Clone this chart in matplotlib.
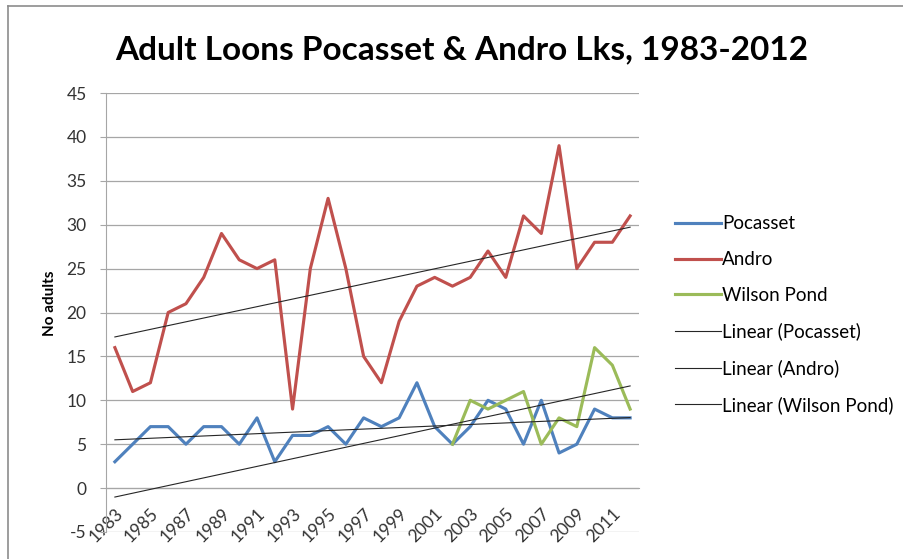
import numpy as np
import matplotlib
matplotlib.use("Agg")
import matplotlib.pyplot as plt
from matplotlib.lines import Line2D

# -----------------------------
# Data
# -----------------------------
years = list(range(1983, 2013))
pocasset = [3, 5, 7, 7, 5, 7, 7, 5, 8, 3, 6, 6, 7, 5, 8, 7, 8, 12, 7, 5,
            7, 10, 9, 5, 10, 4, 5, 9, 8, 8]
andro = [16, 11, 12, 20, 21, 24, 29, 26, 25, 26, 9, 25, 33, 25, 15, 12, 19, 23, 24, 23,
         24, 27, 24, 31, 29, 39, 25, 28, 28, 31]
# Wilson Pond only counted from 2002
wilson_years = list(range(2002, 2013))
wilson = [5, 10, 9, 10, 11, 5, 8, 7, 16, 14, 9]

yticks = list(range(-5, 50, 5))
xticks = list(range(1983, 2012, 2))

plt.rcParams['font.family'] = ['Lato', 'DejaVu Sans']
plt.rcParams['axes.unicode_minus'] = False

fig = plt.figure(figsize=(9.04, 5.59), dpi=100)
ax = fig.add_axes([106 / 904, 1 - 532 / 559, 533 / 904, 439 / 559])

# -----------------------------
# Series
# -----------------------------
ax.plot(years, pocasset, color='#4F81BD', lw=2.25, label='Pocasset', zorder=3)
ax.plot(years, andro, color='#C0504D', lw=2.25, label='Andro', zorder=3)
ax.plot(wilson_years, wilson, color='#9BBB59', lw=2.25, label='Wilson Pond', zorder=3)

# Linear trend lines (Excel style, drawn over all years)
yr = np.array(years)
for xs, ys, name in [(years, pocasset, 'Pocasset'),
                     (years, andro, 'Andro'),
                     (wilson_years, wilson, 'Wilson Pond')]:
    k, b = np.polyfit(xs, ys, 1)
    ax.plot(yr, k * yr + b, color='#262626', lw=0.8,
            label=f'Linear ({name})', zorder=4)

# -----------------------------
# Axes styling
# -----------------------------
for s in ['top', 'right']:
    ax.spines[s].set_visible(False)
# horizontal axis crosses at 0
ax.spines['bottom'].set_position(('data', 0))
ax.spines['bottom'].set_color('#A6A6A6')
ax.spines['left'].set_color('#A6A6A6')

ax.set_xlim(1982.5, 2012.5)
ax.set_ylim(-5, 45)
ax.set_yticks(yticks)
ax.set_xticks(xticks)
ax.set_xticklabels([str(y) for y in xticks])
for lab in ax.get_xticklabels():
    lab.set_rotation(45)
    lab.set_ha('right')
    lab.set_va('top')
    lab.set_rotation_mode('anchor')
ax.grid(axis='y', color='#A6A6A6', lw=0.9)
ax.set_axisbelow(True)

ax.tick_params(axis='y', length=4, color='#A6A6A6', labelsize=12.5,
               labelcolor='#333333', pad=10)
ax.tick_params(axis='x', length=0, labelsize=12.5, labelcolor='#333333', pad=12.5)

ax.set_ylabel('No adults', fontsize=11, fontweight='bold')
ax.yaxis.set_label_coords(-0.091, 0.52)

fig.text(0.511, 0.91, 'Adult Loons Pocasset & Andro Lks, 1983-2012',
         ha='center', va='center', fontsize=24, fontweight='bold')

ax.legend(loc='upper left', bbox_to_anchor=(1.0675, 0.721), frameon=False,
          fontsize=13.5, handlelength=2.45, handletextpad=0.05, labelspacing=1.0,
          borderaxespad=0, borderpad=0)

# chart frame
fig.add_artist(Line2D([8 / 904, 1], [1 - 6 / 559, 1 - 6 / 559],
                      transform=fig.transFigure, color='#8C8C8C', lw=1.2))
fig.add_artist(Line2D([8 / 904, 8 / 904], [0, 1 - 6 / 559],
                      transform=fig.transFigure, color='#8C8C8C', lw=1.2))

fig.savefig('out.png', dpi=100)
